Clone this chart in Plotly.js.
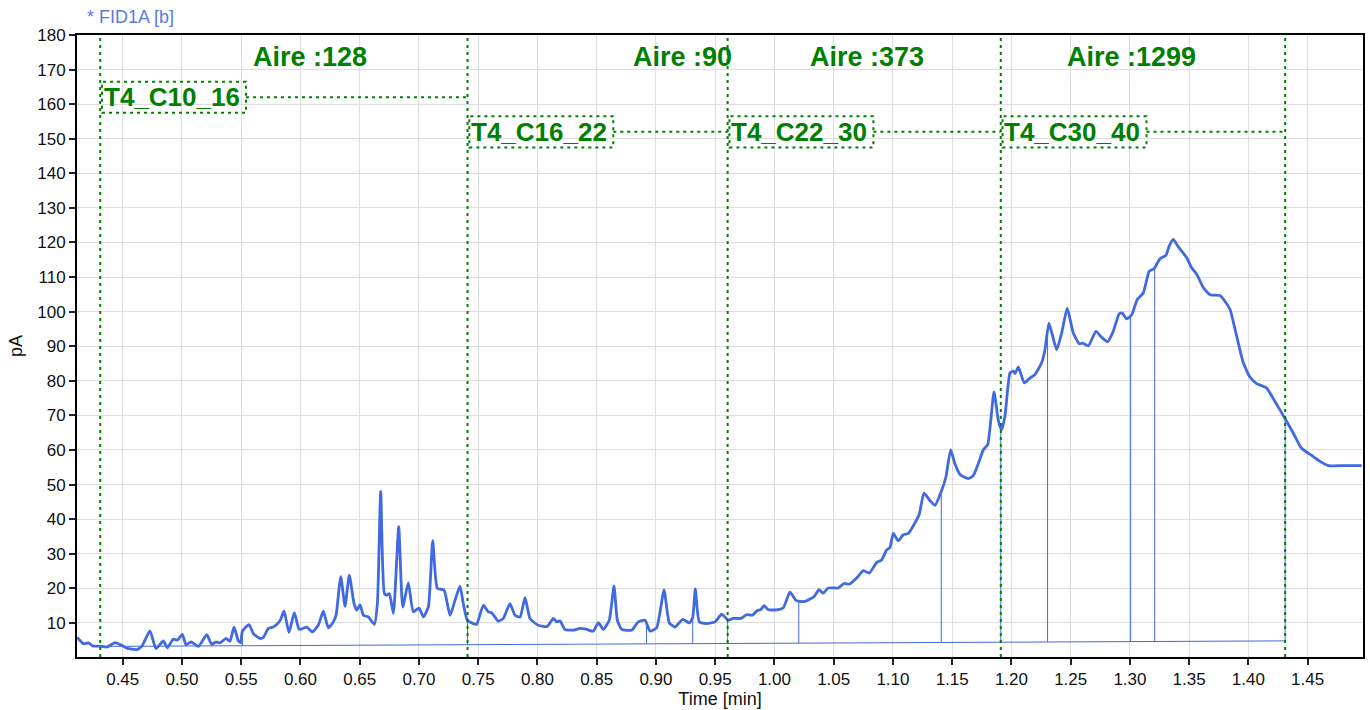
<!DOCTYPE html>
<html>
<head>
<meta charset="utf-8">
<script src="https://cdn.plot.ly/plotly-3.0.1.min.js"></script>
<style>html,body{margin:0;padding:0;background:#fff;}#chart{width:1370px;height:710px;}</style>
</head>
<body>
<div id="chart"></div>
<script>
// ---- data ----
const time = [0.4117,0.4167,0.421,0.4252,0.4308,0.4365,0.4435,0.4492,0.4534,0.4618,0.466,0.473,0.478,0.4843,0.4876,0.4927,0.4961,0.5003,0.5034,0.5076,0.5138,0.5209,0.5251,0.5287,0.5321,0.5372,0.5405,0.5439,0.5476,0.5495,0.551,0.5566,0.5602,0.5659,0.5687,0.5729,0.5771,0.5813,0.5833,0.5861,0.5903,0.5948,0.599,0.6053,0.61,0.615,0.6193,0.6235,0.6277,0.63,0.634,0.6376,0.6412,0.6452,0.6475,0.6503,0.6531,0.6573,0.6623,0.6649,0.6677,0.6708,0.6728,0.675,0.6784,0.6829,0.6863,0.691,0.6952,0.7,0.7037,0.7079,0.7116,0.7155,0.7211,0.7262,0.7304,0.7346,0.7374,0.7408,0.7459,0.7487,0.7543,0.7585,0.7614,0.767,0.7712,0.7768,0.781,0.7853,0.7895,0.7937,0.8007,0.8083,0.8134,0.8162,0.819,0.8232,0.8302,0.8359,0.8416,0.8471,0.8514,0.8556,0.8606,0.8646,0.8674,0.8711,0.8795,0.8851,0.8908,0.895,0.9006,0.9068,0.9113,0.9161,0.9226,0.9282,0.931,0.9332,0.9366,0.9428,0.9498,0.9555,0.961,0.9653,0.9715,0.9766,0.9813,0.9855,0.9884,0.9912,0.9948,1.0019,1.0075,1.0131,1.0182,1.0216,1.0266,1.0334,1.0376,1.0412,1.0454,1.0539,1.0587,1.0632,1.0694,1.075,1.08,1.0863,1.0905,1.0947,1.0975,1.1003,1.1045,1.1087,1.113,1.1172,1.1222,1.1262,1.1312,1.1354,1.1411,1.1447,1.1487,1.1523,1.1566,1.1636,1.1678,1.172,1.1762,1.18,1.1853,1.1889,1.1917,1.1945,1.1988,1.2015,1.203,1.2058,1.2109,1.2156,1.2198,1.2255,1.2283,1.2316,1.2348,1.2382,1.2424,1.2471,1.2522,1.2573,1.2601,1.2649,1.2713,1.2761,1.2812,1.2859,1.291,1.2935,1.2972,1.3015,1.3062,1.3113,1.3163,1.3203,1.3254,1.3304,1.3332,1.3366,1.3403,1.3437,1.3479,1.3521,1.3564,1.362,1.3676,1.376,1.3802,1.3845,1.3901,1.3957,1.4013,1.4069,1.4154,1.4224,1.4308,1.4378,1.4449,1.4547,1.4604,1.4674,1.4829,1.4956];
const signal = [5.8,4.0,4.2,3.3,3.3,3.0,4.3,3.5,2.7,2.3,3.2,7.7,2.6,4.8,2.8,5.3,5.0,6.7,3.7,4.5,3.2,6.6,3.8,4.5,4.2,5.5,4.7,8.8,4.8,4.3,7.6,9.5,6.9,5.5,5.8,8.4,8.8,10.0,11.0,13.5,7.2,13.0,8.1,8.8,7.4,9.3,13.4,8.6,10.3,12.2,23.4,14.8,23.8,15.6,13.7,15.2,12.2,11.7,9.6,15.6,48.0,18.5,18.0,18.5,12.7,37.8,14.6,21.6,13.2,14.3,11.7,14.6,33.8,20.0,19.5,12.2,16.5,20.6,15.6,10.8,9.8,9.6,15.1,13.2,12.9,10.5,11.3,15.6,12.2,11.7,17.3,11.3,9.3,9.0,11.3,10.3,10.6,8.1,7.9,8.4,8.1,7.6,10.1,8.1,10.8,20.6,10.8,8.1,7.9,10.3,10.8,7.6,8.6,19.5,10.0,8.8,11.0,10.0,11.5,19.8,10.3,9.8,10.3,12.5,10.8,11.3,11.3,12.4,12.2,13.6,13.8,15.0,13.8,13.8,14.4,18.9,16.5,16.2,16.3,17.6,19.6,18.6,20.1,20.1,21.4,21.2,23.0,25.1,24.4,27.5,28.2,31.1,31.8,35.9,33.7,35.5,35.9,38.1,41.4,47.5,45.4,44.0,48.3,52.2,60.0,56.0,52.9,51.7,52.6,56.0,60.0,61.6,76.8,68.6,65.8,69.7,82.3,82.8,82.1,84.0,79.4,80.8,81.8,85.2,89.0,96.7,92.9,89.0,93.8,101.0,93.8,90.7,90.9,90.1,94.3,92.6,91.3,94.3,99.4,99.6,97.9,99.1,103.5,105.4,111.7,112.4,115.3,116.3,119.0,120.9,119.0,117.5,115.6,112.7,110.8,106.9,104.9,104.7,103.0,100.6,92.9,85.2,81.1,79.2,77.9,74.0,69.2,64.9,60.5,58.1,56.7,55.5,55.5,55.5];

// integration baseline and peak drop lines
const baselineX = [0.431,0.551,0.741,0.892,0.931,0.9605,1.0205,1.1408,1.191,1.2305,1.3006,1.3209,1.431];
const baselineY = [3.2,3.4,3.7,3.9,4.0,4.05,4.15,4.35,4.4,4.5,4.6,4.65,4.8];
const dropX = [0.551,0.741,0.892,0.931,0.9605,1.0205,1.1408,1.191,1.2305,1.3006,1.3209,1.431];
const dropTop = [7.6,10.8,10.6,11.5,10.9,16.3,48.0,66.0,95.0,98.9,112.4,69.2];

// groups
const boundaries = [0.431,0.741,0.9605,1.191,1.431];
const groupLabels = ['T4_C10_16','T4_C16_22','T4_C22_30','T4_C30_40'];
const areaLabels = ['Aire :128','Aire :90','Aire :373','Aire :1299'];

// ---- layout placement (not data) ----
const areaTextX = [0.608,0.922,1.078,1.301];
const areaTextY = 173.6;
const boxLevel = [162,152,152,152];
const boxHalfH = 4.5;
const boxW = 0.1215;
const boxOffset = 0.0015;

const GREEN = '#008000';
const BLUE = '#4169E1';
const FONT = '"Liberation Sans", Arial, sans-serif';

const dx = [], dy = [];
dropX.forEach((x, i) => {
  const b = baselineY[baselineX.indexOf(x)];
  dx.push(x, x, null);
  dy.push(b, dropTop[i], null);
});

const traces = [
  {x: baselineX, y: baselineY, mode: 'lines', line: {color: BLUE, width: 1}, hoverinfo: 'skip'},
  {x: dx, y: dy, mode: 'lines', line: {color: BLUE, width: 1}, hoverinfo: 'skip'},
  {x: time, y: signal, mode: 'lines', line: {color: BLUE, width: 2.8, shape: 'spline', smoothing: 0.5}}
];

const shapes = [];
const annotations = [];
boundaries.forEach(b => {
  shapes.push({type: 'line', xref: 'x', yref: 'paper', x0: b, x1: b, y0: 0, y1: 1,
    line: {color: GREEN, width: 2, dash: '3px,4px'}, layer: 'above'});
});
groupLabels.forEach((lab, i) => {
  const x0 = boundaries[i] + boxOffset, x1 = x0 + boxW, yc = boxLevel[i];
  shapes.push({type: 'rect', xref: 'x', yref: 'y', x0: x0, x1: x1, y0: yc - boxHalfH, y1: yc + boxHalfH,
    line: {color: GREEN, width: 2, dash: '3px,4px'}, fillcolor: 'rgba(0,0,0,0)'});
  shapes.push({type: 'line', xref: 'x', yref: 'y', x0: x1, x1: boundaries[i + 1], y0: yc, y1: yc,
    line: {color: GREEN, width: 2, dash: '3px,4px'}});
  annotations.push({x: (x0 + x1) / 2 - 0.002, y: yc, xref: 'x', yref: 'y', text: lab, showarrow: false,
    xanchor: 'center', yanchor: 'middle', font: {family: FONT, size: 26, color: GREEN, weight: 'bold'}});
  annotations.push({x: areaTextX[i], y: areaTextY, xref: 'x', yref: 'y', text: areaLabels[i], showarrow: false,
    xanchor: 'center', yanchor: 'middle', font: {family: FONT, size: 27, color: GREEN, weight: 'bold'}});
});
annotations.push({x: 0.0062, y: 1.029, xref: 'paper', yref: 'paper', text: '* FID1A [b]', showarrow: false,
  xanchor: 'left', yanchor: 'middle', font: {family: FONT, size: 18, color: '#5b7be0'}});

const layout = {
  width: 1370, height: 710,
  margin: {l: 77, r: 7, t: 35, b: 53},
  paper_bgcolor: '#fff', plot_bgcolor: '#fff',
  showlegend: false,
  font: {family: FONT, size: 17, color: '#111'},
  xaxis: {
    range: [0.4114, 1.4967], tick0: 0.45, dtick: 0.05, tickformat: '.2f',
    showgrid: true, gridcolor: '#dedede', gridwidth: 1, zeroline: false,
    showline: true, linecolor: '#000', linewidth: 2, mirror: true,
    ticks: 'outside', ticklen: 6, tickwidth: 2, tickcolor: '#1c2333',
    tickfont: {family: FONT, size: 17, color: '#111'},
    title: {text: 'Time [min]', font: {family: FONT, size: 18, color: '#111'}, standoff: 4}
  },
  yaxis: {
    range: [0.14, 180], tick0: 0, dtick: 10,
    showgrid: true, gridcolor: '#dedede', gridwidth: 1, zeroline: false,
    showline: true, linecolor: '#000', linewidth: 2, mirror: true,
    ticks: 'outside', ticklen: 6, tickwidth: 2, tickcolor: '#1c2333',
    tickfont: {family: FONT, size: 17, color: '#111'},
    title: {text: 'pA', font: {family: FONT, size: 18, color: '#111'}, standoff: 10}
  },
  shapes: shapes,
  annotations: annotations
};

Plotly.newPlot('chart', traces, layout, {displayModeBar: false, staticPlot: true});
</script>
</body>
</html>
